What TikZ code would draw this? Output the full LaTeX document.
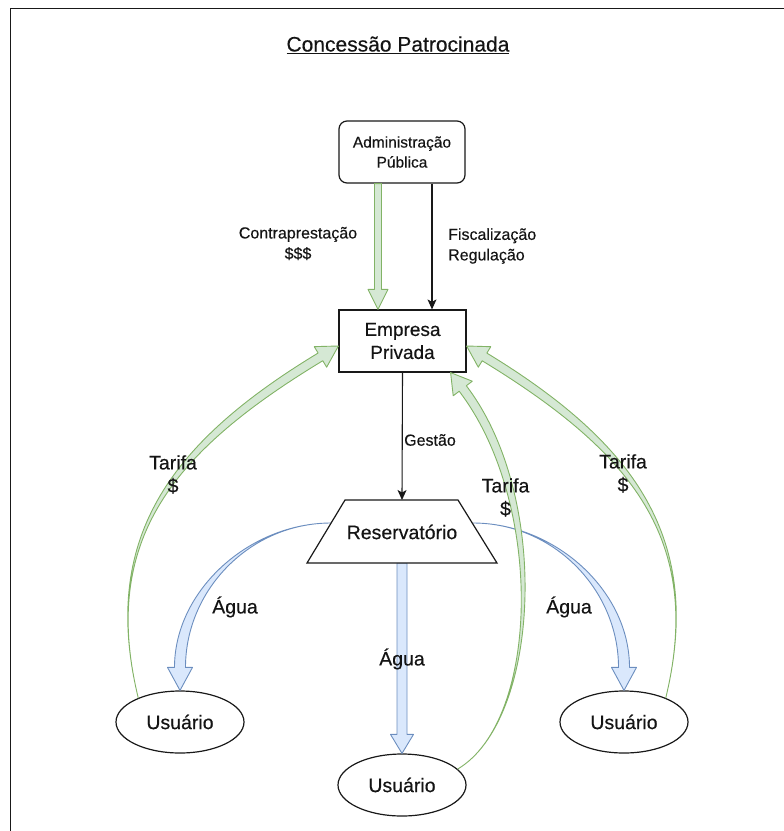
\documentclass[tikz,border=0pt]{standalone}
\usepackage{fontspec}
\setmainfont{Liberation Sans}[FakeBold=0.35]
\usetikzlibrary{calc,shapes.geometric,arrows.meta}

\definecolor{gfill}{HTML}{D5E8D4}
\definecolor{gline}{HTML}{82B366}
\definecolor{bfill}{HTML}{DAE8FC}
\definecolor{bline}{HTML}{6C8EBF}

% Wide hollow arrow along a cubic curve:
% #1 start, #2 first control, #3 second control, #4 tip,
% #5 shaft half-width at start, #6 shaft half-width at head,
% #7 head half-width, #8 head length, #9 style
\newcommand\fxarrow[9]{%
  \coordinate (fx-P) at ($(#4)!#8!(#3)$);
  \coordinate (fx-Sa) at ($(#1)!#5!-90:(#2)$);
  \coordinate (fx-Sb) at ($(#1)!#5!90:(#2)$);
  \coordinate (fx-C1a) at ($(#2)!#5!90:(#1)$);
  \coordinate (fx-C1b) at ($(#2)!#5!-90:(#1)$);
  \coordinate (fx-C2a) at ($(#3)!#6!-90:(fx-P)$);
  \coordinate (fx-C2b) at ($(#3)!#6!90:(fx-P)$);
  \coordinate (fx-Pa) at ($(fx-P)!#6!90:(#3)$);
  \coordinate (fx-Pb) at ($(fx-P)!#6!-90:(#3)$);
  \coordinate (fx-Ha) at ($(fx-P)!#7!90:(#3)$);
  \coordinate (fx-Hb) at ($(fx-P)!#7!-90:(#3)$);
  \draw[#9] (fx-Sa) .. controls (fx-C1a) and (fx-C2a) .. (fx-Pa) -- (fx-Ha) -- (#4)
    -- (fx-Hb) -- (fx-Pb) .. controls (fx-C2b) and (fx-C1b) .. (fx-Sb) -- cycle;
}

\begin{document}
\begin{tikzpicture}[x=1pt,y=-1pt,
  box/.style={draw=black!90, line width=1.2pt, fill=white, inner sep=0pt, align=center, text=black!92},
  lbl/.style={inner sep=0pt, align=center, text=black!92},
  gflow/.style={draw=gline, fill=gfill, line width=0.9pt, line join=round},
  bflow/.style={draw=bline, fill=bfill, line width=0.9pt, line join=round},
  blk/.style={draw=black!90, line width=1.1pt, -{Stealth[length=10pt,width=9pt,inset=2.5pt]}},
  fsmall/.style={font=\fontsize{16}{20.5}\selectfont},
  fbig/.style={font=\fontsize{19.5}{23}\selectfont}
]
\useasboundingbox (0,0) rectangle (784,831);

% outer frame (top and left edges)
\draw[line width=1.8pt, black!90] (10.5,840) -- (10.5,8.5) -- (795,8.5);

% title
\node[lbl, font=\fontsize{21}{25}\selectfont] (title) at (398,45) {\underline{Concessão Patrocinada}};

% main shapes
\node[box, rounded corners=8pt, minimum width=126pt, minimum height=62pt,
      font=\fontsize{15.5}{20}\selectfont] (adm) at (402,152) {Administração\\Pública};
\node[box, minimum width=127pt, minimum height=62pt,
      font=\fontsize{19}{23}\selectfont] (emp) at (402.5,341) {Empresa\\Privada};

% reservoir (trapezoid)
\coordinate (res-top) at (402,500);
\coordinate (res-bot) at (402,563);
\coordinate (res-l) at (331,523);
\coordinate (res-r) at (473,523);

% users
\node[box, ellipse, minimum width=128pt, minimum height=62pt, fbig] (u1) at (180,722) {Usuário};
\node[box, ellipse, minimum width=128pt, minimum height=62pt, fbig] (u2) at (402,785) {Usuário};
\node[box, ellipse, minimum width=128pt, minimum height=62pt, fbig] (u3) at (624,722) {Usuário};

% water flows
\coordinate (bl1) at (250,523);
\coordinate (bl2) at (180,590);
\fxarrow{res-l}{bl1}{bl2}{u1.north}{0pt}{5.5pt}{12.5pt}{23pt}{bflow}
\coordinate (br1) at (554,523);
\coordinate (br2) at (624,590);
\fxarrow{res-r}{br1}{br2}{u3.north}{0pt}{5.5pt}{12.5pt}{23pt}{bflow}
\coordinate (bm1) at ($(res-bot)!0.33!(u2.north)$);
\coordinate (bm2) at ($(res-bot)!0.66!(u2.north)$);
\fxarrow{res-bot}{bm1}{bm2}{u2.north}{5pt}{5pt}{11.5pt}{19pt}{bflow}

% reservoir drawn over the start of the water flows
\draw[box] (307,563) -- (497,563) -- (458,500) -- (345,500) -- cycle;
\node[lbl, fbig] (res) at (402,532) {Reservatório};

% payment flows
\coordinate (ga) at ($(adm.south)+(-24,0)$);
\coordinate (gb) at ($(emp.north)+(-24.5,0)$);
\coordinate (gac1) at ($(ga)!0.33!(gb)$);
\coordinate (gac2) at ($(ga)!0.66!(gb)$);
\fxarrow{ga}{gac1}{gac2}{gb}{3.5pt}{3.5pt}{10pt}{20pt}{gflow}

\coordinate (gl-t) at ($(emp.west)+(0,5)$);
\coordinate (gl1) at (100,540);
\coordinate (gl2) at (170,448);
\fxarrow{u1.150}{gl1}{gl2}{gl-t}{0pt}{4.5pt}{12pt}{21pt}{gflow}

\coordinate (gm-t) at ($(emp.south east)+(-16,0)$);
\coordinate (gm1) at (540,720);
\coordinate (gm2) at (548,500);
\fxarrow{u2.16}{gm1}{gm2}{gm-t}{0pt}{4.5pt}{12pt}{20pt}{gflow}

\coordinate (gr-t) at ($(emp.east)+(0,5)$);
\coordinate (gr1) at (704,540);
\coordinate (gr2) at (634,448);
\fxarrow{u3.30}{gr1}{gr2}{gr-t}{0pt}{4.5pt}{12pt}{21pt}{gflow}

% control and management
\draw[blk] ($(adm.south)+(30,0)$) -- ($(emp.north)+(29.5,0)$);
\draw[blk] (emp.south) -- (res-top);

% labels
\node[lbl, fsmall] (lcontra) at (298,243.5) {Contraprestação\\\$\$\$};
\node[lbl, fsmall, align=left, anchor=west] (lfisc) at (448,246) {Fiscalização\\Regulação};
\node[lbl, fsmall] (lgest) at (430,440) {Gestão};

\node[lbl, fbig] (tl) at (173,474.5) {Tarifa\\\$};
\node[lbl, fbig] (tm) at (505.5,497.5) {Tarifa\\\$};
\node[lbl, fbig] (tr) at (623,473.5) {Tarifa\\\$};

\node[lbl, fbig] (al) at (235,607) {Água};
\node[lbl, fbig] (am) at (402,659) {Água};
\node[lbl, fbig] (ar) at (569,607) {Água};
\end{tikzpicture}
\end{document}
